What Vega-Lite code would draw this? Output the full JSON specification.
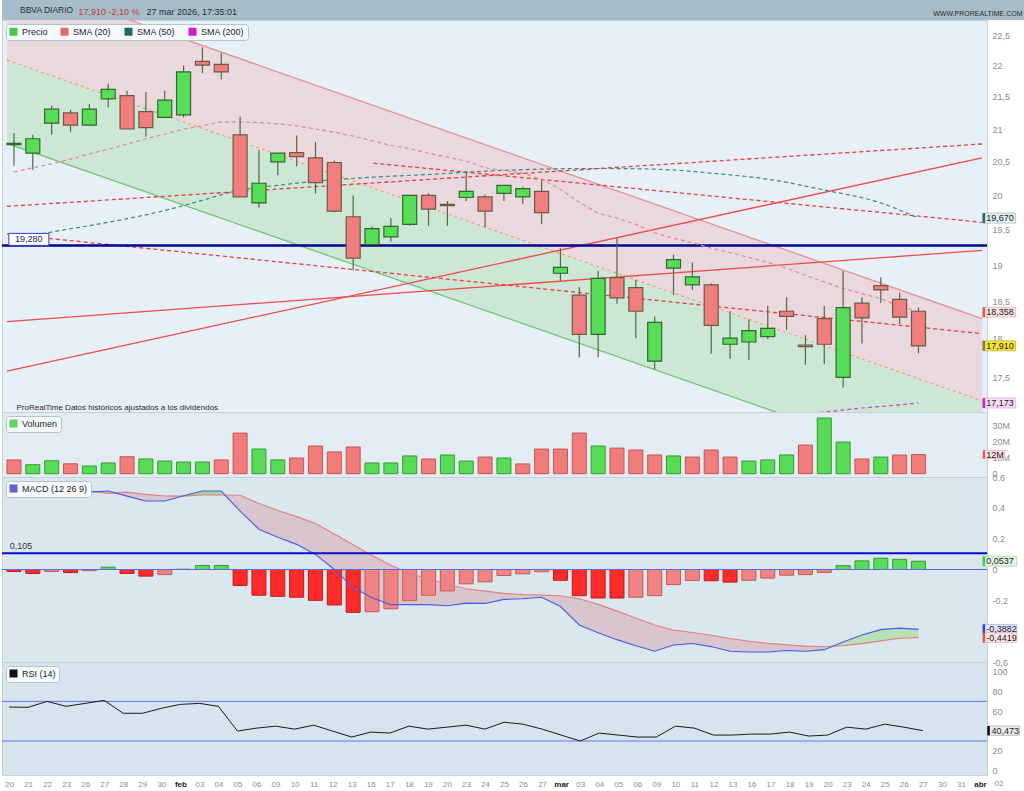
{
  "$schema": "https://vega.github.io/schema/vega-lite/v6.json",
  "padding": 0,
  "background": "#ffffff",
  "spacing": 0,
  "bounds": "flush",
  "config": {
    "locale": {"number": {"decimal": ",", "thousands": ".", "grouping": [3], "currency": ["", " €"], "minus": "-"}},
    "font": "Liberation Sans",
    "view": {"stroke": "#c4d2da", "strokeWidth": 1},
    "axis": {"labelFont": "Liberation Sans", "labelFontSize": 9, "labelColor": "#8c8c8c", "ticks": false, "domain": false, "grid": false, "tickCount": 100, "labelOverlap": false},
    "legend": {"orient": "top-left", "direction": "horizontal", "symbolType": "square", "symbolSize": 64, "symbolStrokeWidth": 0, "labelFont": "Liberation Sans", "labelFontSize": 9, "labelColor": "#1e1e1e", "strokeColor": "#b3c4ce", "fillColor": "#f6f9fb", "padding": 3, "cornerRadius": 3, "offset": 4, "columnPadding": 12, "symbolOpacity": 1}
  },
  "resolve": {
    "scale": {"x": "independent", "y": "independent", "color": "independent", "fill": "independent", "stroke": "independent"},
    "axis": {"x": "independent", "y": "independent"},
    "legend": {"color": "independent", "fill": "independent", "stroke": "independent"}
  },
  "datasets": {
    "candles": [
      {"i":0,"o":20.76,"h":20.94,"l":20.44,"c":20.78,"v":8.6,"vd":"down"},
      {"i":1,"o":20.63,"h":20.91,"l":20.38,"c":20.85,"v":5.6,"vd":"up"},
      {"i":2,"o":21.09,"h":21.36,"l":20.91,"c":21.31,"v":8.1,"vd":"up"},
      {"i":3,"o":21.25,"h":21.30,"l":20.95,"c":21.06,"v":6.2,"vd":"down"},
      {"i":4,"o":21.06,"h":21.39,"l":21.06,"c":21.31,"v":4.8,"vd":"up"},
      {"i":5,"o":21.47,"h":21.71,"l":21.34,"c":21.62,"v":6.7,"vd":"up"},
      {"i":6,"o":21.52,"h":21.60,"l":21.00,"c":21.00,"v":10.6,"vd":"down"},
      {"i":7,"o":21.27,"h":21.58,"l":20.88,"c":21.02,"v":9.2,"vd":"up"},
      {"i":8,"o":21.18,"h":21.60,"l":21.17,"c":21.45,"v":7.9,"vd":"up"},
      {"i":9,"o":21.22,"h":22.00,"l":21.18,"c":21.90,"v":7.3,"vd":"up"},
      {"i":10,"o":22.07,"h":22.30,"l":21.88,"c":22.01,"v":7.3,"vd":"up"},
      {"i":11,"o":22.02,"h":22.20,"l":21.78,"c":21.90,"v":8.6,"vd":"down"},
      {"i":12,"o":20.91,"h":21.19,"l":19.98,"c":19.98,"v":25.4,"vd":"down"},
      {"i":13,"o":19.89,"h":20.68,"l":19.82,"c":20.18,"v":15.4,"vd":"up"},
      {"i":14,"o":20.50,"h":20.63,"l":20.30,"c":20.63,"v":8.6,"vd":"up"},
      {"i":15,"o":20.64,"h":20.90,"l":20.43,"c":20.58,"v":9.8,"vd":"down"},
      {"i":16,"o":20.56,"h":20.80,"l":20.03,"c":20.19,"v":17.3,"vd":"down"},
      {"i":17,"o":20.49,"h":20.52,"l":19.75,"c":19.77,"v":13.6,"vd":"down"},
      {"i":18,"o":19.69,"h":20.00,"l":18.93,"c":19.10,"v":16.7,"vd":"down"},
      {"i":19,"o":19.29,"h":19.55,"l":19.29,"c":19.52,"v":6.7,"vd":"up"},
      {"i":20,"o":19.40,"h":19.67,"l":19.33,"c":19.55,"v":6.7,"vd":"up"},
      {"i":21,"o":19.58,"h":20.00,"l":19.56,"c":20.00,"v":11.1,"vd":"up"},
      {"i":22,"o":20.00,"h":20.03,"l":19.56,"c":19.80,"v":9.2,"vd":"down"},
      {"i":23,"o":19.87,"h":19.92,"l":19.56,"c":19.85,"v":11.7,"vd":"up"},
      {"i":24,"o":19.97,"h":20.35,"l":19.92,"c":20.06,"v":7.9,"vd":"up"},
      {"i":25,"o":19.98,"h":20.01,"l":19.54,"c":19.77,"v":10.4,"vd":"down"},
      {"i":26,"o":20.03,"h":20.15,"l":19.92,"c":20.15,"v":9.8,"vd":"up"},
      {"i":27,"o":19.98,"h":20.13,"l":19.88,"c":20.10,"v":6.1,"vd":"down"},
      {"i":28,"o":20.06,"h":20.23,"l":19.58,"c":19.75,"v":15.4,"vd":"down"},
      {"i":29,"o":18.89,"h":19.24,"l":18.78,"c":18.97,"v":15.4,"vd":"down"},
      {"i":30,"o":18.59,"h":18.70,"l":17.76,"c":18.06,"v":25.4,"vd":"down"},
      {"i":31,"o":18.06,"h":18.92,"l":17.76,"c":18.82,"v":17.3,"vd":"up"},
      {"i":32,"o":18.83,"h":19.38,"l":18.47,"c":18.55,"v":16.0,"vd":"down"},
      {"i":33,"o":18.69,"h":18.80,"l":18.01,"c":18.37,"v":14.8,"vd":"down"},
      {"i":34,"o":17.71,"h":18.30,"l":17.60,"c":18.22,"v":11.7,"vd":"down"},
      {"i":35,"o":18.96,"h":19.15,"l":18.59,"c":19.08,"v":11.1,"vd":"up"},
      {"i":36,"o":18.73,"h":19.04,"l":18.66,"c":18.84,"v":10.4,"vd":"down"},
      {"i":37,"o":18.73,"h":18.75,"l":17.81,"c":18.18,"v":14.8,"vd":"down"},
      {"i":38,"o":17.93,"h":18.37,"l":17.74,"c":18.01,"v":10.4,"vd":"down"},
      {"i":39,"o":17.96,"h":18.26,"l":17.72,"c":18.11,"v":7.9,"vd":"up"},
      {"i":40,"o":18.03,"h":18.44,"l":18.00,"c":18.14,"v":8.6,"vd":"up"},
      {"i":41,"o":18.37,"h":18.56,"l":18.12,"c":18.30,"v":11.7,"vd":"up"},
      {"i":42,"o":17.92,"h":18.05,"l":17.66,"c":17.90,"v":17.9,"vd":"down"},
      {"i":43,"o":18.27,"h":18.44,"l":17.67,"c":17.93,"v":34.8,"vd":"up"},
      {"i":44,"o":17.50,"h":18.92,"l":17.37,"c":18.42,"v":19.8,"vd":"up"},
      {"i":45,"o":18.48,"h":18.56,"l":17.94,"c":18.28,"v":9.2,"vd":"down"},
      {"i":46,"o":18.72,"h":18.83,"l":18.48,"c":18.66,"v":10.4,"vd":"up"},
      {"i":47,"o":18.53,"h":18.62,"l":18.20,"c":18.29,"v":11.7,"vd":"down"},
      {"i":48,"o":18.37,"h":18.42,"l":17.81,"c":17.91,"v":12.0,"vd":"down"}
    ],
    "chan": [
      {"i":-0.37,"up":23.48,"mid":22.09,"lo":20.78},
      {"i":51.37,"up":18.27,"mid":17.20,"lo":16.18}
    ],
    "tl": [
      {"id":"R1","i":-0.37,"p":17.58},{"id":"R1","i":51.37,"p":20.56},
      {"id":"R2","i":-0.37,"p":18.23},{"id":"R2","i":51.37,"p":19.21},
      {"id":"A","i":-0.37,"p":19.84},{"id":"A","i":51.37,"p":20.77},
      {"id":"B","i":19.07,"p":20.48},{"id":"B","i":51.37,"p":19.61},
      {"id":"C","i":-0.37,"p":19.44},{"id":"C","i":51.37,"p":18.07}
    ],
    "sma20": [
      {"i":0,"p":20.35},{"i":1,"p":20.41},{"i":2,"p":20.47},{"i":3,"p":20.54},{"i":4,"p":20.62},
      {"i":5,"p":20.69},{"i":6,"p":20.77},{"i":7,"p":20.85},{"i":8,"p":20.92},{"i":9,"p":21.0},
      {"i":10,"p":21.05},{"i":11,"p":21.11},{"i":12,"p":21.11},{"i":13,"p":21.10},{"i":14,"p":21.08},
      {"i":15,"p":21.05},{"i":16,"p":21.0},{"i":17,"p":20.95},{"i":18,"p":20.89},{"i":19,"p":20.82},
      {"i":20,"p":20.75},{"i":21,"p":20.70},{"i":22,"p":20.63},{"i":23,"p":20.57},{"i":24,"p":20.51},
      {"i":25,"p":20.41},{"i":26,"p":20.37},{"i":27,"p":20.33},{"i":28,"p":20.24},{"i":29,"p":20.09},
      {"i":30,"p":19.90},{"i":31,"p":19.74},{"i":32,"p":19.67},{"i":33,"p":19.58},{"i":34,"p":19.46},
      {"i":35,"p":19.38},{"i":36,"p":19.32},{"i":37,"p":19.24},{"i":38,"p":19.18},{"i":39,"p":19.11},
      {"i":40,"p":19.04},{"i":41,"p":18.96},{"i":42,"p":18.86},{"i":43,"p":18.77},{"i":44,"p":18.68},
      {"i":45,"p":18.61},{"i":46,"p":18.54},{"i":47,"p":18.44},{"i":48,"p":18.358}
    ],
    "sma50": [
      {"i":0,"p":19.37},{"i":2,"p":19.47},{"i":5,"p":19.61},{"i":8,"p":19.78},{"i":10,"p":19.93},
      {"i":12,"p":20.08},{"i":14,"p":20.15},{"i":16,"p":20.21},{"i":19,"p":20.27},{"i":22,"p":20.31},
      {"i":25,"p":20.36},{"i":28,"p":20.39},{"i":31,"p":20.40},{"i":34,"p":20.39},{"i":37,"p":20.33},
      {"i":40,"p":20.24},{"i":43,"p":20.08},{"i":46,"p":19.89},{"i":48,"p":19.67}
    ],
    "sma200": [
      {"i":42,"p":17.04},{"i":43,"p":17.06},{"i":44,"p":17.085},{"i":45,"p":17.11},
      {"i":46,"p":17.13},{"i":47,"p":17.15},{"i":48,"p":17.173}
    ],
    "ptags": [
      {"v":19.67,"t":"19,670","k":"s50"},
      {"v":18.358,"t":"18,358","k":"s20"},
      {"v":17.91,"t":"17,910","k":"px"},
      {"v":17.173,"t":"17,173","k":"s200"}
    ],
    "macd": [
      {"i":0,"m":0.502,"s":0.515,"h":-0.013,"hd":"fall"},
      {"i":1,"m":0.476,"s":0.502,"h":-0.026,"hd":"fall"},
      {"i":2,"m":0.489,"s":0.502,"h":-0.013,"hd":"rise"},
      {"i":3,"m":0.496,"s":0.516,"h":-0.020,"hd":"fall"},
      {"i":4,"m":0.502,"s":0.510,"h":-0.008,"hd":"rise"},
      {"i":5,"m":0.509,"s":0.494,"h":0.015,"hd":"pos"},
      {"i":6,"m":0.476,"s":0.502,"h":-0.026,"hd":"fall"},
      {"i":7,"m":0.444,"s":0.487,"h":-0.043,"hd":"fall"},
      {"i":8,"m":0.444,"s":0.477,"h":-0.033,"hd":"rise"},
      {"i":9,"m":0.478,"s":0.476,"h":0.002,"hd":"pos"},
      {"i":10,"m":0.509,"s":0.483,"h":0.026,"hd":"pos"},
      {"i":11,"m":0.509,"s":0.483,"h":0.026,"hd":"pos"},
      {"i":12,"m":0.378,"s":0.482,"h":-0.104,"hd":"fall"},
      {"i":13,"m":0.261,"s":0.428,"h":-0.167,"hd":"fall"},
      {"i":14,"m":0.209,"s":0.383,"h":-0.174,"hd":"fall"},
      {"i":15,"m":0.163,"s":0.343,"h":-0.180,"hd":"fall"},
      {"i":16,"m":0.098,"s":0.298,"h":-0.200,"hd":"fall"},
      {"i":17,"m":0.000,"s":0.230,"h":-0.230,"hd":"fall"},
      {"i":18,"m":-0.117,"s":0.161,"h":-0.278,"hd":"fall"},
      {"i":19,"m":-0.183,"s":0.091,"h":-0.274,"hd":"rise"},
      {"i":20,"m":-0.228,"s":0.027,"h":-0.255,"hd":"rise"},
      {"i":21,"m":-0.228,"s":-0.026,"h":-0.202,"hd":"rise"},
      {"i":22,"m":-0.228,"s":-0.061,"h":-0.167,"hd":"rise"},
      {"i":23,"m":-0.235,"s":-0.096,"h":-0.139,"hd":"rise"},
      {"i":24,"m":-0.218,"s":-0.125,"h":-0.093,"hd":"rise"},
      {"i":25,"m":-0.220,"s":-0.140,"h":-0.080,"hd":"rise"},
      {"i":26,"m":-0.194,"s":-0.155,"h":-0.039,"hd":"rise"},
      {"i":27,"m":-0.190,"s":-0.162,"h":-0.028,"hd":"rise"},
      {"i":28,"m":-0.180,"s":-0.166,"h":-0.014,"hd":"rise"},
      {"i":29,"m":-0.240,"s":-0.170,"h":-0.070,"hd":"fall"},
      {"i":30,"m":-0.360,"s":-0.190,"h":-0.170,"hd":"fall"},
      {"i":31,"m":-0.410,"s":-0.225,"h":-0.185,"hd":"fall"},
      {"i":32,"m":-0.455,"s":-0.270,"h":-0.185,"hd":"fall"},
      {"i":33,"m":-0.495,"s":-0.315,"h":-0.180,"hd":"rise"},
      {"i":34,"m":-0.530,"s":-0.360,"h":-0.170,"hd":"rise"},
      {"i":35,"m":-0.490,"s":-0.392,"h":-0.098,"hd":"rise"},
      {"i":36,"m":-0.480,"s":-0.409,"h":-0.071,"hd":"rise"},
      {"i":37,"m":-0.500,"s":-0.427,"h":-0.073,"hd":"fall"},
      {"i":38,"m":-0.530,"s":-0.448,"h":-0.082,"hd":"fall"},
      {"i":39,"m":-0.535,"s":-0.465,"h":-0.070,"hd":"rise"},
      {"i":40,"m":-0.535,"s":-0.479,"h":-0.056,"hd":"rise"},
      {"i":41,"m":-0.525,"s":-0.488,"h":-0.037,"hd":"rise"},
      {"i":42,"m":-0.530,"s":-0.497,"h":-0.033,"hd":"rise"},
      {"i":43,"m":-0.520,"s":-0.501,"h":-0.019,"hd":"rise"},
      {"i":44,"m":-0.470,"s":-0.495,"h":0.025,"hd":"pos"},
      {"i":45,"m":-0.425,"s":-0.481,"h":0.056,"hd":"pos"},
      {"i":46,"m":-0.390,"s":-0.463,"h":0.073,"hd":"pos"},
      {"i":47,"m":-0.380,"s":-0.446,"h":0.066,"hd":"pos"},
      {"i":48,"m":-0.3882,"s":-0.4419,"h":0.0537,"hd":"pos"}
    ],
    "mtags": [
      {"v":0.0537,"t":"0,0537","k":"h"},
      {"v":-0.3882,"t":"-0,3882","k":"m"},
      {"v":-0.4419,"t":"-0,4419","k":"s"}
    ],
    "rsi": [
      {"i":0,"r":64.3},{"i":1,"r":64},{"i":2,"r":70},{"i":3,"r":65},{"i":4,"r":68},
      {"i":5,"r":71},{"i":6,"r":58},{"i":7,"r":58},{"i":8,"r":63},{"i":9,"r":67},
      {"i":10,"r":68},{"i":11,"r":65},{"i":12,"r":40},{"i":13,"r":43},{"i":14,"r":45},
      {"i":15,"r":42},{"i":16,"r":46},{"i":17,"r":40},{"i":18,"r":34},{"i":19,"r":39},
      {"i":20,"r":38},{"i":21,"r":45},{"i":22,"r":42},{"i":23,"r":44},{"i":24,"r":46},
      {"i":25,"r":42},{"i":26,"r":49},{"i":27,"r":47},{"i":28,"r":42},{"i":29,"r":36},
      {"i":30,"r":30},{"i":31,"r":38},{"i":32,"r":36},{"i":33,"r":34},{"i":34,"r":34},
      {"i":35,"r":45},{"i":36,"r":43},{"i":37,"r":36},{"i":38,"r":36},{"i":39,"r":37},
      {"i":40,"r":37},{"i":41,"r":39},{"i":42,"r":35},{"i":43,"r":36},{"i":44,"r":44},
      {"i":45,"r":42},{"i":46,"r":47},{"i":47,"r":44},{"i":48,"r":40.473}
    ]
  },
  "vconcat": [
    {
      "width": 1024, "height": 20,
      "view": {"fill": "#a6bdc9", "stroke": null},
      "title": {"text": "BBVA DIARIO", "anchor": "start", "offset": -14, "dx": 18, "fontSize": 8.5, "fontWeight": "normal", "color": "#2b2b2b", "font": "Liberation Sans"},
      "data": {"values": [{"k": 1}]},
      "resolve": {"scale": {"x": "independent"}, "axis": {"x": "independent"}},
      "layer": [
        {
          "mark": {"type": "text", "text": ""},
          "encoding": {
            "x": {"datum": 0, "type": "quantitative", "scale": {"domain": [0, 1]}, "axis": {"orient": "top", "labels": false, "title": "WWW.PROREALTIME.COM", "titleX": 1020, "titleY": 13, "titleAlign": "right", "titleBaseline": "middle", "titleFontSize": 7, "titleFontWeight": "normal", "titleColor": "#2b2b2b", "titleFont": "Liberation Sans"}},
            "y": {"datum": 0, "type": "quantitative", "scale": {"domain": [0, 1]}, "axis": {"orient": "left", "labels": false, "title": "17,910 -2,10 %", "titleAngle": 0, "titleX": 76, "titleY": 14, "titleAlign": "left", "titleBaseline": "alphabetic", "titleFontSize": 9, "titleFontWeight": "normal", "titleColor": "#c0392b", "titleFont": "Liberation Sans"}}
          }
        },
        {
          "mark": {"type": "text", "text": ""},
          "encoding": {
            "x": {"datum": 0, "type": "quantitative", "scale": {"domain": [0, 1]}, "axis": {"orient": "bottom", "labels": false, "title": "27 mar 2026, 17:35:01", "titleX": 144, "titleY": -6, "titleAlign": "left", "titleBaseline": "alphabetic", "titleFontSize": 9, "titleFontWeight": "normal", "titleColor": "#2b2b2b", "titleFont": "Liberation Sans"}}
          }
        }
      ]
    },
    {
      "width": 985, "height": 392,
      "view": {"fill": "#e7f0f6", "stroke": "#c4d2da"},
      "resolve": {"scale": {"fill": "independent", "stroke": "independent"}},
      "layer": [
        {
          "data": {"name": "chan"},
          "mark": {"type": "area", "color": "#e9d9df", "clip": true},
          "encoding": {
            "x": {"field": "i", "type": "quantitative", "scale": {"domain": [-0.37, 51.37], "nice": false, "zero": false},
              "axis": {"orient": "bottom", "labels": false, "title": "ProRealTime Datos históricos ajustados a los dividendos", "titleX": 14, "titleY": -5, "titleAlign": "left", "titleBaseline": "middle", "titleFontSize": 8, "titleFontWeight": "normal", "titleColor": "#2a2a2a", "titleFont": "Liberation Sans"}},
            "y": {"field": "up", "type": "quantitative", "scale": {"type": "log", "domain": [17.06, 22.75], "nice": false, "zero": false},
              "axis": {"orient": "right", "values": [17.5, 18, 18.5, 19, 19.5, 20, 20.5, 21, 21.5, 22, 22.5], "format": ".1~f", "labelPadding": 5, "title": null}},
            "y2": {"field": "mid"}
          }
        },
        {
          "data": {"name": "chan"},
          "mark": {"type": "area", "color": "#cde7d6", "clip": true},
          "encoding": {"x": {"field": "i", "type": "quantitative"}, "y": {"field": "mid", "type": "quantitative"}, "y2": {"field": "lo"}}
        },
        {
          "data": {"name": "chan"},
          "mark": {"type": "line", "color": "#e88c8c", "strokeWidth": 1.2, "clip": true},
          "encoding": {"x": {"field": "i", "type": "quantitative"}, "y": {"field": "up", "type": "quantitative"}}
        },
        {
          "data": {"name": "chan"},
          "mark": {"type": "line", "color": "#f2a26a", "strokeWidth": 1.2, "strokeDash": [3, 3], "clip": true},
          "encoding": {"x": {"field": "i", "type": "quantitative"}, "y": {"field": "mid", "type": "quantitative"}}
        },
        {
          "data": {"name": "chan"},
          "mark": {"type": "line", "color": "#6cc46c", "strokeWidth": 1.2, "clip": true},
          "encoding": {"x": {"field": "i", "type": "quantitative"}, "y": {"field": "lo", "type": "quantitative"}}
        },
        {
          "data": {"name": "tl"},
          "transform": [{"filter": {"field": "id", "oneOf": ["R1", "R2"]}}],
          "mark": {"type": "line", "color": "#ef4a4a", "strokeWidth": 1.3, "clip": true},
          "encoding": {"x": {"field": "i", "type": "quantitative"}, "y": {"field": "p", "type": "quantitative"}, "detail": {"field": "id"}}
        },
        {
          "data": {"name": "tl"},
          "transform": [{"filter": {"field": "id", "oneOf": ["A", "B", "C"]}}],
          "mark": {"type": "line", "color": "#ee3b3b", "strokeWidth": 1.3, "strokeDash": [4, 3], "clip": true},
          "encoding": {"x": {"field": "i", "type": "quantitative"}, "y": {"field": "p", "type": "quantitative"}, "detail": {"field": "id"}}
        },
        {
          "data": {"values": [{"k": 1}]},
          "mark": {"type": "rule", "color": "#00008f", "strokeWidth": 2.5},
          "encoding": {"y": {"datum": 19.28, "type": "quantitative"}}
        },
        {
          "data": {"name": "sma200"},
          "mark": {"type": "line", "color": "#c846c8", "strokeWidth": 1.2, "strokeDash": [4, 3], "clip": true},
          "encoding": {"x": {"field": "i", "type": "quantitative"}, "y": {"field": "p", "type": "quantitative"}}
        },
        {
          "data": {"name": "sma50"},
          "mark": {"type": "line", "color": "#3a8888", "strokeWidth": 1.2, "strokeDash": [4, 3], "clip": true, "interpolate": "monotone"},
          "encoding": {"x": {"field": "i", "type": "quantitative"}, "y": {"field": "p", "type": "quantitative"}}
        },
        {
          "data": {"name": "sma20"},
          "mark": {"type": "line", "color": "#e58a90", "strokeWidth": 1.2, "strokeDash": [4, 3], "clip": true},
          "encoding": {"x": {"field": "i", "type": "quantitative"}, "y": {"field": "p", "type": "quantitative"}}
        },
        {
          "data": {"name": "candles"},
          "mark": {"type": "rule", "color": "#55683f", "strokeWidth": 1.2},
          "encoding": {"x": {"field": "i", "type": "quantitative"}, "y": {"field": "l", "type": "quantitative"}, "y2": {"field": "h"}}
        },
        {
          "data": {"name": "candles"},
          "mark": {"type": "bar", "size": 14, "strokeWidth": 1.2},
          "encoding": {
            "x": {"field": "i", "type": "quantitative"},
            "y": {"field": "o", "type": "quantitative"},
            "y2": {"field": "c"},
            "fill": {"condition": {"test": "datum.c >= datum.o", "value": "#57dd57"}, "value": "#f07e7e"},
            "stroke": {"condition": {"test": "datum.c >= datum.o", "value": "#2f6a2a"}, "value": "#6e5a40"}
          }
        },
        {
          "data": {"name": "ptags"},
          "mark": {"type": "point", "shape": "M-1,-0.3H1V0.3H-1Z", "size": 1089, "filled": true, "opacity": 1, "strokeWidth": 0.8},
          "encoding": {
            "x": {"datum": 52.28, "type": "quantitative"},
            "y": {"field": "v", "type": "quantitative"},
            "fill": {"field": "k", "type": "nominal", "scale": {"domain": ["s50", "s20", "px", "s200"], "range": ["#e2eeeb", "#fbe2e2", "#f6e534", "#f8ddf6"]}, "legend": null},
            "stroke": {"field": "k", "type": "nominal", "scale": {"domain": ["s50", "s20", "px", "s200"], "range": ["#9cc0bb", "#efb0b0", "#c9b820", "#e6a6e6"]}, "legend": null}
          }
        },
        {
          "data": {"name": "ptags"},
          "mark": {"type": "point", "shape": "M-1,-0.3H-0.85V0.3H-1Z", "size": 1089, "filled": true, "opacity": 1, "strokeWidth": 0},
          "encoding": {
            "x": {"datum": 52.28, "type": "quantitative"},
            "y": {"field": "v", "type": "quantitative"},
            "fill": {"field": "k", "type": "nominal", "scale": {"domain": ["s50", "s20", "px", "s200"], "range": ["#1d6868", "#e05a5a", "#7a7a7a", "#d21ad2"]}, "legend": null}
          }
        },
        {
          "data": {"name": "ptags"},
          "mark": {"type": "text", "align": "left", "baseline": "middle", "fontSize": 9, "color": "#1a1a1a", "font": "Liberation Sans"},
          "encoding": {
            "x": {"datum": 51.6, "type": "quantitative"},
            "y": {"field": "v", "type": "quantitative"},
            "text": {"field": "t"}
          }
        },
        {
          "data": {"values": [{"k": 1}]},
          "mark": {"type": "point", "shape": "M-1,-0.6H1V0H-1Z", "size": 1600, "filled": true, "fill": "#ffffff", "stroke": "#3a3ac0", "strokeWidth": 1, "opacity": 1},
          "encoding": {"x": {"datum": 0.79, "type": "quantitative"}, "y": {"datum": 19.28, "type": "quantitative"}}
        },
        {
          "data": {"values": [{"k": 1}]},
          "mark": {"type": "text", "text": "19,280", "align": "center", "baseline": "middle", "dy": -6, "fontSize": 9, "color": "#1a1a6a", "font": "Liberation Sans"},
          "encoding": {"x": {"datum": 0.79, "type": "quantitative"}, "y": {"datum": 19.28, "type": "quantitative"}}
        },
        {
          "data": {"values": [{"k": 1}]},
          "mark": {"type": "point", "filled": true, "opacity": 0},
          "encoding": {
            "color": {"datum": "Precio", "type": "nominal", "scale": {"domain": ["Precio", "SMA (20)", "SMA (50)", "SMA (200)"], "range": ["#48c848", "#e46a6a", "#1d6868", "#d21ad2"]}, "legend": {"title": null, "symbolOpacity": 1}}
          }
        }
      ]
    },
    {
      "width": 985, "height": 65,
      "view": {"fill": "#e2ecf2", "stroke": "#c4d2da"},
      "layer": [
        {
          "data": {"name": "candles"},
          "mark": {"type": "bar", "size": 14, "strokeWidth": 1},
          "encoding": {
            "x": {"field": "i", "type": "quantitative", "scale": {"domain": [-0.37, 51.37], "nice": false, "zero": false}, "axis": null},
            "y": {"field": "v", "type": "quantitative", "scale": {"domain": [-2.06, 38.56], "nice": false, "zero": false},
              "axis": {"orient": "right", "values": [0, 10, 20, 30], "labelExpr": "datum.value == 0 ? '0' : datum.value + 'M'", "labelPadding": 5, "title": null}},
            "y2": {"datum": 0},
            "fill": {"field": "vd", "type": "nominal", "scale": {"domain": ["up", "down"], "range": ["#58dc58", "#f07c7c"]}, "legend": null},
            "stroke": {"field": "vd", "type": "nominal", "scale": {"domain": ["up", "down"], "range": ["#2f9e2f", "#c85555"]}, "legend": null}
          }
        },
        {
          "data": {"values": [{"v": 12, "t": "12M"}]},
          "mark": {"type": "point", "shape": "M-1,-0.36H1V0.36H-1Z", "size": 484, "filled": true, "fill": "#fbe2e2", "stroke": "#efb0b0", "strokeWidth": 0.8, "opacity": 1},
          "encoding": {"x": {"datum": 52.0, "type": "quantitative"}, "y": {"field": "v", "type": "quantitative"}}
        },
        {
          "data": {"values": [{"v": 12, "t": "12M"}]},
          "mark": {"type": "point", "shape": "M-1,-0.36H-0.8V0.36H-1Z", "size": 484, "filled": true, "fill": "#e05a5a", "strokeWidth": 0, "opacity": 1},
          "encoding": {"x": {"datum": 52.0, "type": "quantitative"}, "y": {"field": "v", "type": "quantitative"}}
        },
        {
          "data": {"values": [{"v": 12, "t": "12M"}]},
          "mark": {"type": "text", "align": "left", "baseline": "middle", "fontSize": 9, "color": "#1a1a1a", "font": "Liberation Sans"},
          "encoding": {"x": {"datum": 51.6, "type": "quantitative"}, "y": {"field": "v", "type": "quantitative"}, "text": {"field": "t"}}
        },
        {
          "data": {"values": [{"k": 1}]},
          "mark": {"type": "point", "filled": true, "opacity": 0},
          "encoding": {"color": {"datum": "Volumen", "type": "nominal", "scale": {"domain": ["Volumen"], "range": ["#5cd65c"]}, "legend": {"title": null, "symbolOpacity": 1}}}
        }
      ]
    },
    {
      "width": 985, "height": 185,
      "view": {"fill": "#dae7ee", "stroke": "#c4d2da"},
      "layer": [
        {
          "data": {"name": "macd"},
          "mark": {"type": "area", "color": "#d9aab2", "opacity": 0.55, "clip": true},
          "encoding": {
            "x": {"field": "i", "type": "quantitative", "scale": {"domain": [-0.37, 51.37], "nice": false, "zero": false}, "axis": null},
            "y": {"field": "m", "type": "quantitative", "scale": {"domain": [-0.6, 0.6], "nice": false, "zero": false},
              "axis": {"orient": "right", "values": [-0.6, -0.2, 0, 0.2, 0.4, 0.6], "format": ".1~f", "labelPadding": 5, "title": null}},
            "y2": {"field": "s"}
          }
        },
        {
          "data": {"name": "macd"},
          "transform": [{"filter": "datum.i >= 9 && datum.i <= 11"}],
          "mark": {"type": "area", "color": "#8fdc8f", "opacity": 0.8, "clip": true},
          "encoding": {"x": {"field": "i", "type": "quantitative"}, "y": {"field": "m", "type": "quantitative"}, "y2": {"field": "s"}}
        },
        {
          "data": {"name": "macd"},
          "transform": [{"filter": "datum.i >= 43"}],
          "mark": {"type": "area", "color": "#b4e4b4", "opacity": 0.9, "clip": true},
          "encoding": {"x": {"field": "i", "type": "quantitative"}, "y": {"field": "m", "type": "quantitative"}, "y2": {"field": "s"}}
        },
        {
          "data": {"name": "macd"},
          "mark": {"type": "bar", "size": 14, "strokeWidth": 1},
          "encoding": {
            "x": {"field": "i", "type": "quantitative"},
            "y": {"field": "h", "type": "quantitative"},
            "y2": {"datum": 0},
            "fill": {"field": "hd", "type": "nominal", "scale": {"domain": ["fall", "rise", "pos"], "range": ["#ff2b2b", "#f08383", "#58dc58"]}, "legend": null},
            "stroke": {"field": "hd", "type": "nominal", "scale": {"domain": ["fall", "rise", "pos"], "range": ["#c41a1a", "#c75a5a", "#2f9e2f"]}, "legend": null}
          }
        },
        {
          "data": {"name": "macd"},
          "mark": {"type": "line", "color": "#e57f7f", "strokeWidth": 1.1, "clip": true},
          "encoding": {"x": {"field": "i", "type": "quantitative"}, "y": {"field": "s", "type": "quantitative"}}
        },
        {
          "data": {"name": "macd"},
          "mark": {"type": "line", "color": "#4a5be8", "strokeWidth": 1.1, "clip": true},
          "encoding": {"x": {"field": "i", "type": "quantitative"}, "y": {"field": "m", "type": "quantitative"}}
        },
        {
          "data": {"values": [{"k": 1}]},
          "mark": {"type": "rule", "color": "#5868e6", "strokeWidth": 1},
          "encoding": {"y": {"datum": 0, "type": "quantitative"}}
        },
        {
          "data": {"values": [{"k": 1}]},
          "mark": {"type": "rule", "color": "#0a0ad0", "strokeWidth": 2},
          "encoding": {"y": {"datum": 0.105, "type": "quantitative"}}
        },
        {
          "data": {"values": [{"k": 1}]},
          "mark": {"type": "text", "text": "0,105", "align": "left", "baseline": "bottom", "dy": -2, "fontSize": 9, "color": "#333333", "font": "Liberation Sans"},
          "encoding": {"x": {"datum": -0.22, "type": "quantitative"}, "y": {"datum": 0.105, "type": "quantitative"}}
        },
        {
          "data": {"name": "mtags"},
          "mark": {"type": "point", "shape": "M-1,-0.29H1V0.29H-1Z", "size": 1156, "filled": true, "opacity": 1, "strokeWidth": 0.8},
          "encoding": {
            "x": {"datum": 52.31, "type": "quantitative"},
            "y": {"field": "v", "type": "quantitative"},
            "fill": {"field": "k", "type": "nominal", "scale": {"domain": ["h", "m", "s"], "range": ["#e2f6e2", "#e3e6fb", "#fbe3e3"]}, "legend": null},
            "stroke": {"field": "k", "type": "nominal", "scale": {"domain": ["h", "m", "s"], "range": ["#a6dca6", "#a8b0ee", "#efb0b0"]}, "legend": null}
          }
        },
        {
          "data": {"name": "mtags"},
          "mark": {"type": "point", "shape": "M-1,-0.29H-0.86V0.29H-1Z", "size": 1156, "filled": true, "opacity": 1, "strokeWidth": 0},
          "encoding": {
            "x": {"datum": 52.31, "type": "quantitative"},
            "y": {"field": "v", "type": "quantitative"},
            "color": {"field": "k", "type": "nominal", "scale": {"domain": ["h", "m", "s"], "range": ["#44cc44", "#3344dd", "#e05a5a"]}, "legend": null}
          }
        },
        {
          "data": {"name": "mtags"},
          "mark": {"type": "text", "align": "left", "baseline": "middle", "fontSize": 9, "color": "#1a1a1a", "font": "Liberation Sans"},
          "encoding": {"x": {"datum": 51.6, "type": "quantitative"}, "y": {"field": "v", "type": "quantitative"}, "text": {"field": "t"}}
        },
        {
          "data": {"values": [{"k": 1}]},
          "mark": {"type": "point", "filled": true, "opacity": 0},
          "encoding": {"fill": {"datum": "MACD (12 26 9)", "type": "nominal", "scale": {"domain": ["MACD (12 26 9)"], "range": ["#6a5acd"]}, "legend": {"title": null, "symbolOpacity": 1}}}
        }
      ],
      "resolve": {"scale": {"fill": "independent", "stroke": "independent", "color": "independent"}}
    },
    {
      "width": 985, "height": 113,
      "view": {"fill": "#d5e4ed", "stroke": "#c4d2da"},
      "layer": [
        {
          "data": {"values": [{"y": 70}, {"y": 30}]},
          "mark": {"type": "rule", "color": "#6677ee", "strokeWidth": 1},
          "encoding": {"y": {"field": "y", "type": "quantitative", "scale": {"domain": [-4.34, 109.8], "nice": false, "zero": false},
            "axis": {"orient": "right", "values": [0, 20, 60, 80, 100], "labelPadding": 5, "title": null, "labelColor": "#8c8c8c"}}}
        },
        {
          "data": {"name": "rsi"},
          "mark": {"type": "line", "color": "#1a1a1a", "strokeWidth": 1, "clip": true},
          "encoding": {
            "x": {"field": "i", "type": "quantitative", "scale": {"domain": [-0.37, 51.37], "nice": false, "zero": false},
              "axis": {"orient": "bottom", "title": null, "tickCount": 100, "values": [0,1,2,3,4,5,6,7,8,9,10,11,12,13,14,15,16,17,18,19,20,21,22,23,24,25,26,27,28,29,30,31,32,33,34,35,36,37,38,39,40,41,42,43,44,45,46,47,48,49,50,51,52],
                "labelExpr": "['20','21','22','23','26','27','28','29','30','feb','03','04','05','06','09','10','11','12','13','16','17','18','19','20','23','24','25','26','27','mar','03','04','05','06','09','10','11','12','13','16','17','18','19','20','23','24','25','26','27','30','31','abr','02'][datum.value]",
                "labelColor": {"condition": {"test": "datum.value == 9 || datum.value == 29 || datum.value == 51", "value": "#1a1a1a"}, "value": "#8c8c8c"},
                "labelFontWeight": {"condition": {"test": "datum.value == 9 || datum.value == 29 || datum.value == 51", "value": "bold"}, "value": "normal"},
                "labelFontSize": 8, "labelPadding": 5, "labelOverlap": false, "labelFlush": false, "labelBound": false}},
            "y": {"field": "r", "type": "quantitative"}
          }
        },
        {
          "data": {"values": [{"d": "02"}]},
          "mark": {"type": "text", "align": "center", "baseline": "top", "fontSize": 8, "color": "#8c8c8c", "font": "Liberation Sans"},
          "encoding": {"x": {"datum": 52, "type": "quantitative"}, "y": {"datum": -9.4, "type": "quantitative"}, "text": {"field": "d"}}
        },
        {
          "data": {"values": [{"v": 40.473, "t": "40,473"}]},
          "mark": {"type": "point", "shape": "M-1,-0.29H1V0.29H-1Z", "size": 1024, "filled": true, "fill": "#eeeeee", "stroke": "#b0b0b0", "strokeWidth": 0.8, "opacity": 1},
          "encoding": {"x": {"datum": 52.23, "type": "quantitative"}, "y": {"field": "v", "type": "quantitative"}}
        },
        {
          "data": {"values": [{"v": 40.473, "t": "40,473"}]},
          "mark": {"type": "point", "shape": "M-1,-0.29H-0.85V0.29H-1Z", "size": 1024, "filled": true, "fill": "#000000", "strokeWidth": 0, "opacity": 1},
          "encoding": {"x": {"datum": 52.23, "type": "quantitative"}, "y": {"field": "v", "type": "quantitative"}}
        },
        {
          "data": {"values": [{"v": 40.473, "t": "40,473"}]},
          "mark": {"type": "text", "align": "left", "baseline": "middle", "fontSize": 9, "color": "#1a1a1a", "font": "Liberation Sans"},
          "encoding": {"x": {"datum": 51.6, "type": "quantitative"}, "y": {"field": "v", "type": "quantitative"}, "text": {"field": "t"}}
        },
        {
          "data": {"values": [{"k": 1}]},
          "mark": {"type": "point", "filled": true, "opacity": 0},
          "encoding": {"color": {"datum": "RSI (14)", "type": "nominal", "scale": {"domain": ["RSI (14)"], "range": ["#111111"]}, "legend": {"title": null, "symbolOpacity": 1}}}
        }
      ]
    }
  ]
}
